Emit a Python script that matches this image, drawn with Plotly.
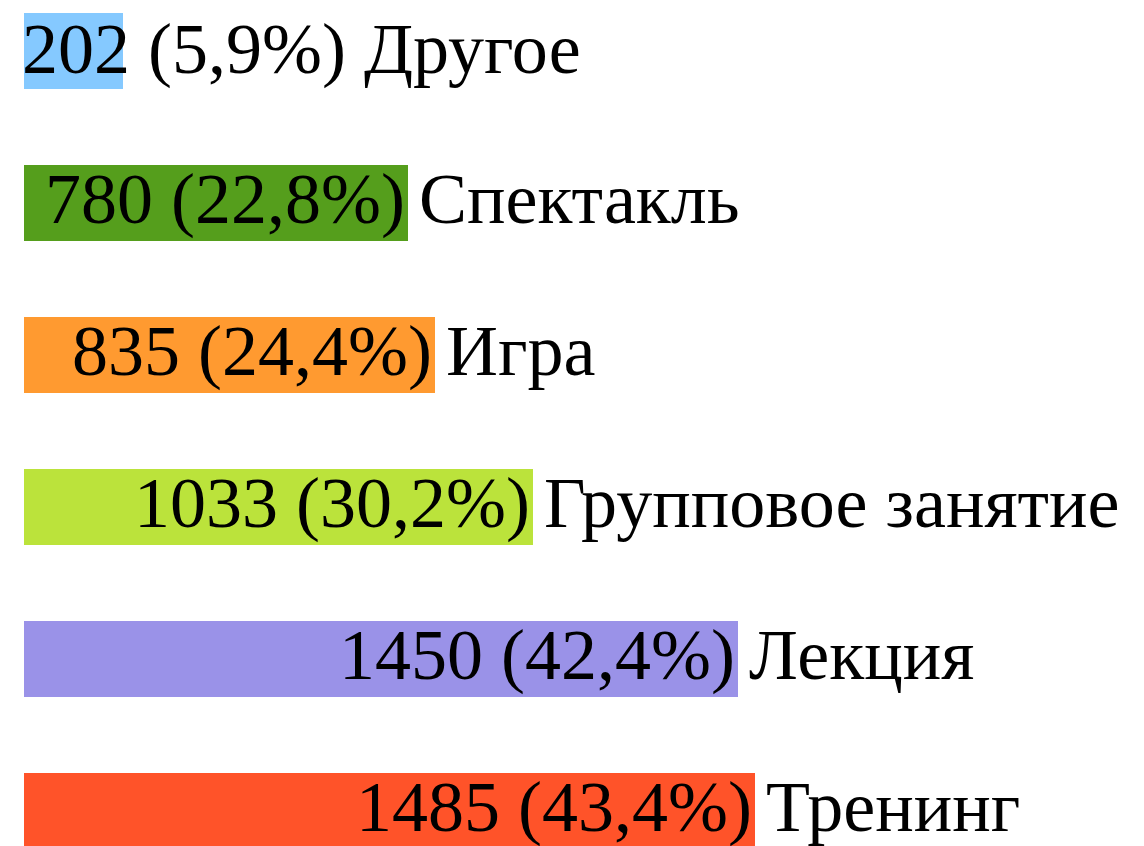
import plotly.graph_objects as go

categories = ["Другое", "Спектакль", "Игра", "Групповое занятие", "Лекция", "Тренинг"]
values = [202, 780, 835, 1033, 1450, 1485]
percents = ["5,9", "22,8", "24,4", "30,2", "42,4", "43,4"]
colors = ["#85C9FF", "#559E1C", "#FF9A30", "#BBE33B", "#9A92E8", "#FF5329"]

FONT = "Liberation Serif"
FS = 72

# bottom-to-top order for plotting
cats_bt = categories[::-1]
vals_bt = values[::-1]
cols_bt = colors[::-1]

fig = go.Figure()
fig.add_trace(go.Bar(
    y=cats_bt, x=vals_bt, orientation="h",
    marker=dict(color=cols_bt, line=dict(width=0)),
    width=0.5, hoverinfo="skip",
))

annotations = []
for c, v, p in zip(categories, values, percents):
    value_label = f"{v} ({p}%)"
    if v < 400:
        annotations.append(dict(
            x=0, y=c, xref="x", yref="y", text=f"{value_label} {c}",
            showarrow=False, xanchor="left", yanchor="middle",
            font=dict(family=FONT, size=FS, color="black"), xshift=-3, yshift=2,
            borderpad=0,
        ))
    else:
        annotations.append(dict(
            x=v, y=c, xref="x", yref="y", text=value_label,
            showarrow=False, xanchor="right", yanchor="middle",
            font=dict(family=FONT, size=FS, color="black"), xshift=-1, yshift=4,
        ))
        annotations.append(dict(
            x=v, y=c, xref="x", yref="y", text=c,
            showarrow=False, xanchor="left", yanchor="middle",
            font=dict(family=FONT, size=FS, color="black"), xshift=9, yshift=4,
        ))

fig.update_layout(
    width=1144, height=846,
    margin=dict(l=0, r=0, t=0, b=0),
    paper_bgcolor="white", plot_bgcolor="white",
    showlegend=False,
    annotations=annotations,
    xaxis=dict(range=[-32.5, 2291], visible=False, fixedrange=True),
    yaxis=dict(range=[-0.283, 5.283], visible=False, type="category",
               categoryorder="array", categoryarray=cats_bt, fixedrange=True),
    bargap=0,
)

fig.write_html("out.html", config={"displayModeBar": False})
